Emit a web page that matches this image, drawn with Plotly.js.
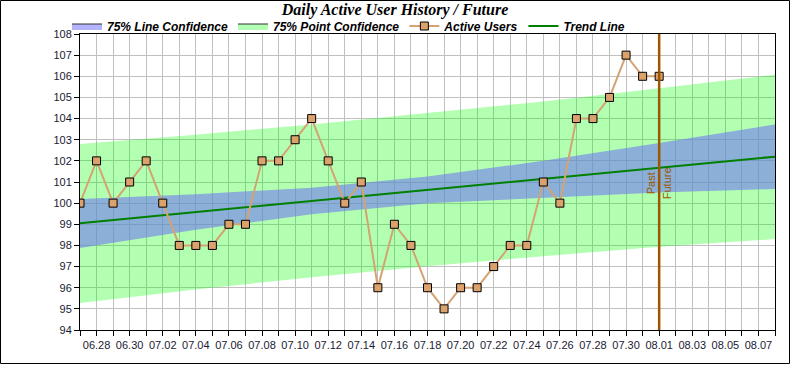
<!DOCTYPE html>
<html><head><meta charset="utf-8">
<script src="https://cdn.plot.ly/plotly-3.0.1.min.js"></script>
<style>html,body{margin:0;padding:0;background:#fff}#chart{width:790px;height:365px}</style>
</head><body><div id="chart"></div><script>
const chartTitle = 'Daily Active User History / Future';
const dates = ['2024-06-27','2024-06-28','2024-06-29','2024-06-30','2024-07-01','2024-07-02','2024-07-03','2024-07-04','2024-07-05','2024-07-06','2024-07-07','2024-07-08','2024-07-09','2024-07-10','2024-07-11','2024-07-12','2024-07-13','2024-07-14','2024-07-15','2024-07-16','2024-07-17','2024-07-18','2024-07-19','2024-07-20','2024-07-21','2024-07-22','2024-07-23','2024-07-24','2024-07-25','2024-07-26','2024-07-27','2024-07-28','2024-07-29','2024-07-30','2024-07-31','2024-08-01'];
const activeUsers = [100,102,100,101,102,100,98,98,98,99,99,102,102,103,104,102,100,101,96,99,98,96,95,96,96,97,98,98,101,100,104,104,105,107,106,106];
const bandDates = ['2024-06-27','2024-07-04','2024-07-11','2024-07-18','2024-07-25','2024-08-01','2024-08-08'];
const lineConfUpper = [100.2,100.42,100.73,101.26,102.0,102.84,103.72];
const lineConfLower = [97.88,98.74,99.47,100.0,100.25,100.5,100.67];
const pointConfUpper = [102.8,103.24,103.72,104.25,104.81,105.43,106.07];
const pointConfLower = [95.28,95.92,96.49,97.02,97.49,97.94,98.3];
const trendDates = ['2024-06-27','2024-08-08'];
const trendValues = [99.05,102.2];
const boundaryDate = '2024-08-01';
const pastLabel = 'Past', futureLabel = 'Future';
const xRange = ['2024-06-27','2024-08-08'];
const yRange = [94,108];

function band(upper, lower){
  return {x: bandDates.concat(bandDates.slice().reverse()), y: upper.concat(lower.slice().reverse())};
}
const pb = band(pointConfUpper, pointConfLower);
const lb = band(lineConfUpper, lineConfLower);
const tickFont = {family:'Arial, Liberation Sans, sans-serif', size:11, color:'#1a1a33'};
const legFont = {family:'Arial, Liberation Sans, sans-serif', size:12, color:'#000', weight:'bold', style:'italic'};
const brown = '#9c5700';

const traces = [
  {type:'scatter', mode:'lines', x:pb.x, y:pb.y, fill:'toself', fillcolor:'rgba(0,255,0,0.3)', line:{width:0}, showlegend:false, hoverinfo:'skip'},
  {type:'scatter', mode:'lines', x:lb.x, y:lb.y, fill:'toself', fillcolor:'rgba(114,122,239,0.6)', line:{width:0}, showlegend:false, hoverinfo:'skip'},
  {type:'scatter', mode:'lines', x:trendDates, y:trendValues, line:{color:'#008000', width:2}, name:'Trend Line', legendrank:4},
  {type:'scatter', mode:'lines+markers', x:dates, y:activeUsers, line:{color:'#d4a373', width:2}, marker:{symbol:'square', size:8, color:'#dba26c', line:{color:'#000', width:1}}, name:'Active Users', legendrank:3},
  {type:'scatter', mode:'lines', x:[null], y:[null], fill:'toself', fillcolor:'#b3b3ff', line:{color:'#333', width:1}, name:'75% Line Confidence', legendrank:1},
  {type:'scatter', mode:'lines', x:[null], y:[null], fill:'toself', fillcolor:'#b3ffb3', line:{color:'#333', width:1}, name:'75% Point Confidence', legendrank:2}
];

const layout = {
  width:790, height:365,
  margin:{l:80, r:15, t:34, b:35},
  paper_bgcolor:'#fff', plot_bgcolor:'#fff',
  title:{text:chartTitle, x:0.5, xanchor:'center', y:0.975, yanchor:'middle', font:{family:'Times New Roman, Liberation Serif, serif', size:16, color:'#000', weight:'bold', style:'italic'}},
  showlegend:true,
  legend:{orientation:'h', x:-0.0187, xanchor:'left', y:1.027, yanchor:'middle', font:legFont, bgcolor:'rgba(0,0,0,0)', traceorder:'normal', itemwidth:30},
  xaxis:{type:'date', range:xRange, tickformat:'%m.%d', dtick:2*86400000, tick0:'2024-06-28', ticks:'outside', ticklen:5, tickcolor:'#000', showgrid:true, gridcolor:'#c0c0c0', gridwidth:1, showline:true, linecolor:'#000', linewidth:1, mirror:true, tickfont:tickFont, zeroline:false,
    minor:{dtick:86400000, tick0:'2024-06-27', ticks:'outside', ticklen:5, tickcolor:'#000', showgrid:true, gridcolor:'#c0c0c0', gridwidth:1}},
  yaxis:{range:yRange, dtick:1, ticks:'outside', ticklen:5, tickcolor:'#000', showgrid:true, gridcolor:'#c0c0c0', gridwidth:1, showline:true, linecolor:'#000', linewidth:1, mirror:true, tickfont:tickFont, zeroline:false},
  shapes:[
    {type:'line', xref:'x', yref:'paper', x0:boundaryDate, x1:boundaryDate, y0:0, y1:1, line:{color:brown, width:2.5}, layer:'above'},
    {type:'rect', xref:'paper', yref:'paper', x0:(0.5-80)/695, x1:(789.5-80)/695, y0:(330-363.5)/296, y1:(330-0.5)/296, line:{color:'#000', width:1}, fillcolor:'rgba(0,0,0,0)'}
  ],
  annotations:[
    {x:boundaryDate, y:100.95, xref:'x', yref:'y', text:pastLabel, textangle:-90, showarrow:false, xshift:-8, font:{family:'Arial, Liberation Sans, sans-serif', size:11, color:brown}},
    {x:boundaryDate, y:100.95, xref:'x', yref:'y', text:futureLabel, textangle:-90, showarrow:false, xshift:8, font:{family:'Arial, Liberation Sans, sans-serif', size:11, color:brown}}
  ]
};
Plotly.newPlot('chart', traces, layout, {displayModeBar:false, staticPlot:true});
</script></body></html>
